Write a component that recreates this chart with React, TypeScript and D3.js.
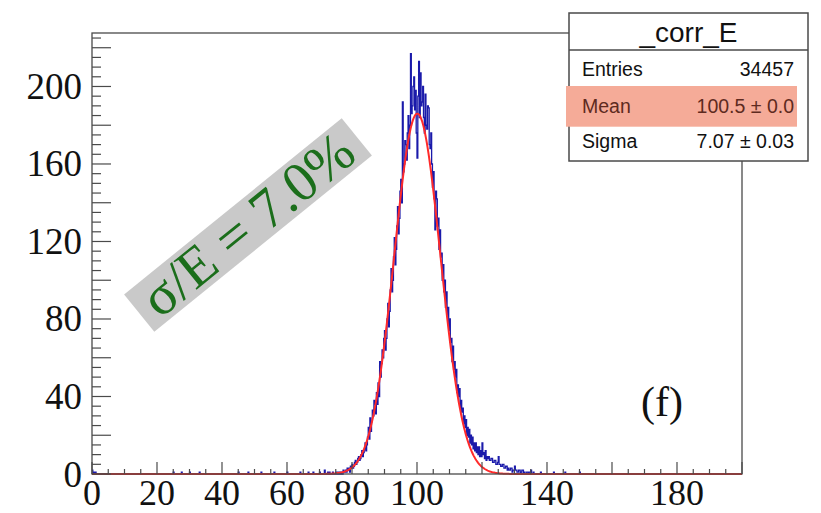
import React from "react";
import * as d3 from "d3";

// ---------- data ----------
const histStart = 76; // first bin edge of the main block
const binWidth = 0.25;
const mainCounts = [
  1, 0, 1, 0, 0, 2, 1, 1,
  2, 1, 3, 2, 3, 1, 4, 3,
  5, 3, 4, 6, 7, 5, 6, 8,
  9, 7, 8, 10, 12, 9, 11, 13,
  16, 12, 15, 19, 24, 18, 29, 22,
  27, 33, 30, 38, 36, 31, 42, 36,
  47, 40, 58, 50, 57, 64, 60, 70,
  74, 64, 70, 80, 88, 76, 84, 95,
  106, 94, 100, 112, 122, 108, 116, 128,
  138, 124, 132, 146, 152, 140, 192, 156,
  160, 172, 170, 162, 176, 185, 168, 180,
  217, 186, 190, 200, 205, 188, 198, 176,
  163, 195, 213, 184, 207, 190, 192, 200,
  184, 176, 196, 180, 178, 190, 189, 170,
  168, 176, 160, 148, 156, 142, 126, 146,
  142, 128, 132, 116, 126, 112, 114, 100,
  108, 94, 100, 86, 94, 82, 86, 74,
  80, 68, 70, 58, 66, 54, 58, 50,
  54, 42, 46, 40, 44, 34, 38, 32,
  34, 26, 30, 24, 28, 20, 24, 19,
  23, 16, 20, 15, 19, 13, 16, 12,
  16, 11, 14, 10, 14, 9, 12, 9,
  16, 10, 11, 8, 12, 7, 9, 8,
  9, 7, 7, 8, 8, 6, 6, 7,
  7, 5, 5, 6, 9, 5, 5, 4,
  4, 5, 5, 3, 3, 4, 4, 2,
  3, 2, 2, 3, 3, 1, 2, 2,
  4, 2, 2, 1, 1, 2, 2, 0,
  1, 2, 2, 0, 1, 0, 0, 1,
  1, 0, 1, 1, 2, 0, 0, 1,
];
const tailBins: [number, number][] = [
  [0, 2], [0.5, 1], [1, 1], [25, 1], [27.5, 1], [30, 1], [33, 1], [45, 1], [48, 1],
  [52, 1], [56, 1], [60, 1], [64, 1], [66.5, 1], [68, 1], [70, 1], [71.5, 2], [72.5, 1],
  [73, 1], [74, 1], [75, 1], [75.5, 1],
  [138, 1], [142, 1], [145.5, 1], [150, 1],
];
const fitParams = [186, 100.1, 7.1]; // constant, mean, sigma of the gaussian fit

const xLabels = [0, 20, 40, 60, 80, 100, 140, 180];
const yLabels = [0, 40, 80, 120, 160, 200];

const statsTitle = "_corr_E";
const statLabels = ["Entries", "Mean", "Sigma"];
const statValues = ["34457", "100.5 \u00b1 0.0", "7.07 \u00b1 0.03"];
const annotation = "\u03c3/E = 7.0%";
const panelTag = "(f)";

// ---------- layout ----------
const W = 821, H = 513;
const left = 92, right = 742, top = 33, bottom = 474;
const SERIF = "'Liberation Serif', 'Times New Roman', serif";
const SANS = "'Liberation Sans', Arial, Helvetica, sans-serif";
const AXIS = "#4a4a4a";

export default function App() {
  const x = d3.scaleLinear().domain([0, 200]).range([left, right]);
  const y = d3.scaleLinear().domain([0, 227.6]).range([bottom, top]);

  // build histogram bins over full range
  const nb = Math.round(200 / binWidth);
  const bins = new Array(nb).fill(0);
  mainCounts.forEach((c, i) => {
    const idx = Math.round(histStart / binWidth) + i;
    if (idx >= 0 && idx < nb) bins[idx] = c;
  });
  tailBins.forEach(([bx, c]) => {
    const idx = Math.round(bx / binWidth);
    if (idx >= 0 && idx < nb) bins[idx] += c;
  });
  const pts: [number, number][] = bins.map((c, i) => [i * binWidth, c]);
  pts.push([200, bins[nb - 1]]);
  const histPath = d3
    .line<[number, number]>()
    .x((d) => x(d[0]))
    .y((d) => y(d[1]))
    .curve(d3.curveStepAfter)(pts) as string;

  const [A, mu, sg] = fitParams;
  const fitPts: [number, number][] = d3
    .range(0, 200.01, 0.25)
    .map((v) => [v, A * Math.exp(-((v - mu) * (v - mu)) / (2 * sg * sg))]);
  const fitPath = d3
    .line<[number, number]>()
    .x((d) => x(d[0]))
    .y((d) => y(Math.min(d[1], 227)))(fitPts) as string;

  const xTicks = d3.range(0, 200.01, 5);
  const yTicks = d3.range(0, 226, 5);

  // stats box geometry
  const bx0 = 569, bx1 = 808, by0 = 13, by1 = 161, sep = 50;

  return (
    <div style={{ position: "absolute", left: 0, top: 0 }}>
      <svg width={W} height={H} style={{ display: "block", background: "#fff" }}>
        {/* histogram */}
        <path d={histPath} fill="none" stroke="#1a1aaa" strokeWidth={1.3} />
        {/* fit */}
        <path d={fitPath} fill="none" stroke="#ff2a2a" strokeWidth={2} />

        {/* frame */}
        <rect x={left} y={top} width={right - left} height={bottom - top} fill="none" stroke={AXIS} strokeWidth={1.3} />

        {/* x ticks */}
        {xTicks.map((t) => (
          <line
            key={"xt" + t}
            x1={x(t)}
            x2={x(t)}
            y1={bottom}
            y2={bottom - (t % 20 === 0 ? 12 : 5)}
            stroke={AXIS}
            strokeWidth={1.2}
          />
        ))}
        {/* y ticks */}
        {yTicks.map((t) => (
          <line
            key={"yt" + t}
            x1={left}
            x2={left + (t % 20 === 0 ? 19 : 9)}
            y1={y(t)}
            y2={y(t)}
            stroke={AXIS}
            strokeWidth={1.2}
          />
        ))}
        {/* x labels */}
        {xLabels.map((t) => (
          <text key={"xl" + t} x={x(t)} y={505} textAnchor="middle" fontFamily={SERIF} fontSize={36} fill="#111">
            {t}
          </text>
        ))}
        {/* y labels */}
        {yLabels.map((t) => (
          <text key={"yl" + t} x={82} y={y(t) + 12.5} textAnchor="end" fontFamily={SERIF} fontSize={37} fill="#111">
            {t}
          </text>
        ))}

        {/* rotated annotation */}
        <g transform="translate(248,225) rotate(-39)">
          <rect x={-140} y={-24} width={280} height={48} fill="#c9c9c9" />
          <text x={0} y={18} textAnchor="middle" fontFamily={SERIF} fontSize={56} fill="#1b6e1b">
            {annotation}
          </text>
        </g>

        {/* panel tag */}
        <text x={662} y={416} textAnchor="middle" fontFamily={SERIF} fontSize={42} fill="#111">
          {panelTag}
        </text>

        {/* stats box */}
        <rect x={bx0} y={by0} width={bx1 - bx0} height={by1 - by0} fill="#fff" stroke={AXIS} strokeWidth={1.5} />
        <line x1={bx0} x2={bx1} y1={sep} y2={sep} stroke={AXIS} strokeWidth={1.5} />
        <text x={(bx0 + bx1) / 2} y={41.5} textAnchor="middle" fontFamily={SANS} fontSize={28} fill="#111">
          {statsTitle}
        </text>
        <rect x={566} y={86} width={231} height={40.7} fill="#f5ab98" />
        {statLabels.map((lab, i) => {
          const base = [76, 112.5, 148][i];
          const col = i === 1 ? "#5e2a20" : "#111";
          return (
            <g key={lab}>
              <text x={582} y={base} fontFamily={SANS} fontSize={19.5} fill={col}>
                {lab}
              </text>
              <text x={794} y={base} textAnchor="end" fontFamily={SANS} fontSize={19.5} fill={col}>
                {statValues[i]}
              </text>
            </g>
          );
        })}
      </svg>
    </div>
  );
}
